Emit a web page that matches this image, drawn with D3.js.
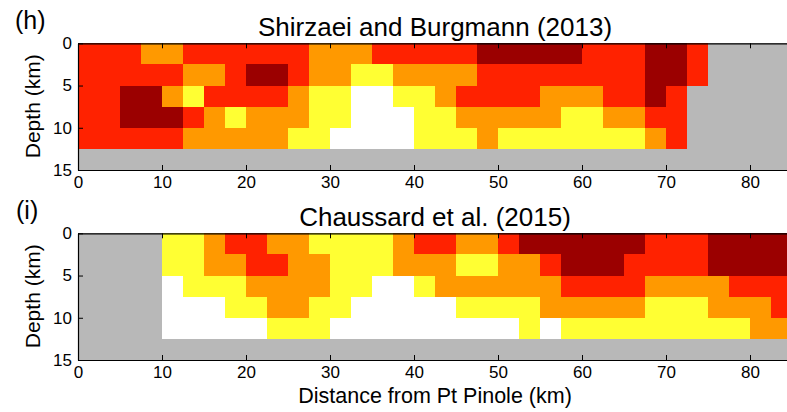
<!DOCTYPE html>
<html>
<head>
<meta charset="utf-8">
<script src="https://cdn.jsdelivr.net/npm/d3@7"></script>
<style>
  html, body { margin: 0; padding: 0; background: #fff; }
  svg { display: block; font-family: "Liberation Sans", Arial, Helvetica, sans-serif; }
</style>
</head>
<body>
<svg id="chart" width="787" height="412"></svg>
<script>
// ---- DATA ----
// Class codes: -1 = no data (gray), 0 = white, 1 = yellow, 2 = orange, 3 = red, 4 = dark red
// Columns are 2.5 km wide from 0 to 85 km (34 columns); rows are 2.5 km deep from 0 to 12.5 km.
const distanceStart = d3.range(34).map(i => i * 2.5);   // column start (km)
const depthStart = [0, 2.5, 5, 7.5, 10];                  // row start (km)
const cellSize = 2.5;                                     // km

const shirzaei = [
  [3,3,3,2,2,3,3,3,3,3,3,2,2,2,3,3,3,3,3,4,4,4,4,4,3,3,3,4,4,3,-1,-1,-1,-1],
  [3,3,3,3,3,2,2,3,4,4,3,2,2,1,1,2,2,2,2,3,3,3,3,3,3,3,3,4,4,3,-1,-1,-1,-1],
  [3,3,4,4,2,1,3,3,3,3,2,1,1,0,0,1,1,2,3,3,3,3,2,2,2,3,3,4,3,-1,-1,-1,-1,-1],
  [3,3,4,4,4,3,2,1,2,2,2,1,1,0,0,0,1,1,2,2,2,2,2,1,1,2,2,3,3,-1,-1,-1,-1,-1],
  [3,3,3,3,3,2,2,2,2,2,1,1,0,0,0,0,1,1,1,2,1,1,1,1,1,1,1,2,3,-1,-1,-1,-1,-1]
];

const chaussard = [
  [-1,-1,-1,-1,1,1,2,3,3,2,2,1,1,1,1,2,3,3,2,2,3,4,4,4,4,4,4,3,3,3,4,4,4,4],
  [-1,-1,-1,-1,1,1,2,2,3,3,2,2,1,1,1,2,2,2,1,1,2,2,3,4,4,4,3,3,3,3,4,4,4,4],
  [-1,-1,-1,-1,0,1,1,1,2,2,2,2,1,1,0,0,1,2,2,2,2,2,2,3,3,3,3,2,2,2,2,3,3,3],
  [-1,-1,-1,-1,0,0,0,1,1,2,2,1,1,0,0,0,0,0,1,1,1,1,2,2,2,2,2,1,1,1,2,2,2,3],
  [-1,-1,-1,-1,0,0,0,0,0,1,1,1,0,0,0,0,0,0,0,0,0,1,0,1,1,1,1,1,1,1,1,1,2,2]
];

const classCodes = [-1, 0, 1, 2, 3, 4];
const classColors = ["#b8b8b8", "#ffffff", "#ffff33", "#ff9900", "#ff2200", "#9b0000"];

const xTicks = [0, 10, 20, 30, 40, 50, 60, 70, 80];
const yTicks = [0, 5, 10, 15];

const panels = [
  { letter: "(h)", title: "Shirzaei and Burgmann (2013)", grid: shirzaei, top: 43.3 },
  { letter: "(i)", title: "Chaussard et al. (2015)", grid: chaussard, top: 233.3 }
];

// ---- DRAW ----
const svg = d3.select("#chart");
const color = d3.scaleOrdinal().domain(classCodes).range(classColors);

const plotLeft = 78, plotRight = 792, plotHeight = 126.7;
const x = d3.scaleLinear().domain([0, 85]).range([plotLeft, plotRight]);

panels.forEach(p => {
  const y = d3.scaleLinear().domain([0, 15]).range([p.top, p.top + plotHeight]);
  const g = svg.append("g");

  // no-data background
  g.append("rect")
    .attr("x", x(0)).attr("y", y(0))
    .attr("width", x(85) - x(0)).attr("height", y(15) - y(0))
    .attr("fill", color(-1));

  const cells = [];
  p.grid.forEach((row, ri) => row.forEach((v, ci) => {
    cells.push({ x0: distanceStart[ci], y0: depthStart[ri], v });
  }));

  g.selectAll("rect.cell").data(cells).join("rect")
    .attr("class", "cell")
    .attr("x", d => x(d.x0))
    .attr("y", d => y(d.y0))
    .attr("width", d => x(d.x0 + cellSize) - x(d.x0) + 0.3)
    .attr("height", d => y(d.y0 + cellSize) - y(d.y0) + 0.3)
    .attr("fill", d => color(d.v))
    .attr("shape-rendering", "crispEdges");

  // axes (MATLAB-style inward ticks, box)
  const axB = g.append("g").attr("transform", `translate(0,${y(15)})`)
    .call(d3.axisBottom(x).tickValues(xTicks).tickSize(-5).tickSizeOuter(0).tickPadding(6));
  const axT = g.append("g").attr("transform", `translate(0,${y(0)})`)
    .call(d3.axisTop(x).tickValues(xTicks).tickSize(-5).tickSizeOuter(0).tickFormat(""));
  const axL = g.append("g").attr("transform", `translate(${x(0)},0)`)
    .call(d3.axisLeft(y).tickValues(yTicks).tickSize(-5).tickSizeOuter(0).tickPadding(6));

  [axB, axT, axL].forEach(a => {
    a.selectAll("path.domain").attr("stroke", "#000").attr("stroke-width", 1.2);
    a.selectAll(".tick line").attr("stroke", "#000");
    a.selectAll(".tick text").attr("font-size", 17).attr("fill", "#000")
      .attr("font-family", "'Liberation Sans', Arial, sans-serif");
  });

  // titles
  g.append("text")
    .attr("x", (x(0) + x(85)) / 2).attr("y", p.top - 7.3)
    .attr("text-anchor", "middle").attr("font-size", 26).attr("fill", "#000")
    .text(p.title);
  g.append("text")
    .attr("x", p.letter === "(h)" ? 15 : 16).attr("y", p.top - 14)
    .attr("font-size", 25).attr("fill", "#000")
    .text(p.letter);

  // y label
  g.append("text")
    .attr("transform", `translate(40,${p.top + 63}) rotate(-90)`)
    .attr("text-anchor", "middle").attr("font-size", 21).attr("fill", "#000")
    .text("Depth (km)");
});

svg.append("text")
  .attr("x", 435).attr("y", 403)
  .attr("text-anchor", "middle").attr("font-size", 21.5).attr("fill", "#000")
  .text("Distance from Pt Pinole (km)");
</script>
</body>
</html>
